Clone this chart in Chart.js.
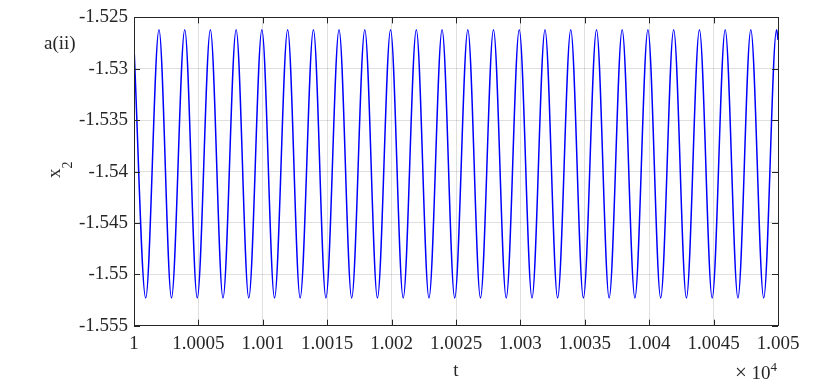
<!DOCTYPE html>
<html lang="en">
  <head>
    <meta charset="utf-8">
    <title>x2 against t</title>
    <script src="https://cdn.jsdelivr.net/npm/chart.js@4.4.1/dist/chart.umd.min.js"></script>
    <style>
      body { margin: 0; background: #fff; }
      #wrap { width: 830px; height: 387px; }
    </style>
  </head>
  <body>
    <div id="wrap"><canvas id="chart" width="830" height="387"></canvas></div>
    <script>
      // turning points of the x2 trace (start, troughs/peaks, end)
      const tValues = [
        10000.00,
        10000.91, 10001.94, 10002.91, 10003.94, 10004.91, 10005.93, 10006.91, 10007.93,
        10008.91, 10009.93, 10010.91, 10011.93, 10012.90, 10013.93, 10014.90, 10015.92,
        10016.90, 10017.92, 10018.90, 10019.92, 10020.90, 10021.92, 10022.90, 10023.92,
        10024.90, 10025.92, 10026.90, 10027.91, 10028.90, 10029.91, 10030.90, 10031.91,
        10032.89, 10033.91, 10034.89, 10035.91, 10036.89, 10037.90, 10038.89, 10039.90,
        10040.89, 10041.90, 10042.89, 10043.90, 10044.89, 10045.90, 10046.89, 10047.89,
        10048.89, 10049.89,
        10050.00
      ];
      const x2Values = [
        -1.5279,
        -1.5523, -1.5262, -1.5523, -1.5262, -1.5523, -1.5262, -1.5523, -1.5262,
        -1.5523, -1.5262, -1.5523, -1.5262, -1.5523, -1.5262, -1.5523, -1.5262,
        -1.5523, -1.5262, -1.5523, -1.5262, -1.5523, -1.5262, -1.5523, -1.5262,
        -1.5523, -1.5262, -1.5523, -1.5262, -1.5523, -1.5262, -1.5523, -1.5262,
        -1.5523, -1.5262, -1.5523, -1.5262, -1.5523, -1.5262, -1.5523, -1.5262,
        -1.5523, -1.5262, -1.5523, -1.5262, -1.5523, -1.5262, -1.5523, -1.5262,
        -1.5523, -1.5262,
        -1.5272
      ];
      const xTicks = [10000, 10005, 10010, 10015, 10020, 10025, 10030, 10035, 10040, 10045, 10050];
      const yTicks = [-1.555, -1.55, -1.545, -1.54, -1.535, -1.53, -1.525];

      const FONT = '"Liberation Serif", "Times New Roman", serif';
      const AXIS = '#262626';
      const GRID = 'rgba(38,38,38,0.15)';

      const points = tValues.map((t, i) => ({ x: t, y: x2Values[i] }));

      // box round the plot, inward ticks, and the MATLAB-style labels
      const matlabBits = {
        id: 'matlabBits',
        afterDraw(chart) {
          const ctx = chart.ctx;
          const a = chart.chartArea;
          const sx = chart.scales.x, sy = chart.scales.y;
          ctx.save();
          ctx.strokeStyle = AXIS;
          ctx.lineWidth = 1;
          ctx.strokeRect(Math.round(a.left) + 0.5, Math.round(a.top) + 0.5,
                         Math.round(a.right - a.left), Math.round(a.bottom - a.top));
          ctx.beginPath();
          xTicks.forEach(v => {
            const px = Math.round(sx.getPixelForValue(v)) + 0.5;
            ctx.moveTo(px, a.bottom); ctx.lineTo(px, a.bottom - 6);
            ctx.moveTo(px, a.top); ctx.lineTo(px, a.top + 6);
          });
          yTicks.forEach(v => {
            const py = Math.round(sy.getPixelForValue(v)) + 0.5;
            ctx.moveTo(a.left, py); ctx.lineTo(a.left + 6, py);
            ctx.moveTo(a.right, py); ctx.lineTo(a.right - 6, py);
          });
          ctx.stroke();

          ctx.fillStyle = AXIS;
          ctx.textBaseline = 'alphabetic';
          ctx.textAlign = 'left';
          ctx.font = '19px ' + FONT;
          ctx.fillText('a(ii)', 44, 49);
          ctx.textAlign = 'center';
          ctx.fillText('t', (a.left + a.right) / 2, 375.5);

          // x10^4 exponent under the right end of the t axis
          ctx.textAlign = 'left';
          ctx.font = '21px ' + FONT;
          ctx.fillText('\u00d7', 735, 379);
          ctx.font = '19px ' + FONT;
          ctx.fillText('10', 751.5, 379);
          ctx.font = '13px ' + FONT;
          ctx.fillText('4', 770.5, 371);

          // y label x_2
          ctx.translate(60, 178);
          ctx.rotate(-Math.PI / 2);
          ctx.font = '19px ' + FONT;
          ctx.fillText('x', 0, 0);
          ctx.font = '14px ' + FONT;
          ctx.fillText('2', 9.5, 11.5);
          ctx.restore();
        }
      };

      const ctx = document.getElementById('chart').getContext('2d');
      const myChart = new Chart(ctx, {
        type: 'line',
        data: {
          datasets: [{
            label: 'x2',
            data: points,
            borderColor: '#0000ff',
            backgroundColor: '#0000ff',
            borderWidth: 1.5,
            pointRadius: 0,
            fill: false,
            cubicInterpolationMode: 'monotone'
          }]
        },
        options: {
          responsive: false,
          animation: false,
          events: [],
          layout: { padding: { top: 11.5, right: 52, bottom: 0, left: 0 } },
          plugins: { legend: { display: false }, tooltip: { enabled: false } },
          scales: {
            x: {
              type: 'linear',
              min: 10000,
              max: 10050,
              afterBuildTicks: s => { s.ticks = xTicks.map(v => ({ value: v })); },
              afterFit: s => { s.height = 61.3; },
              grid: { color: GRID, drawTicks: false },
              border: { display: false },
              ticks: {
                color: AXIS,
                font: { family: FONT, size: 19 },
                padding: 7,
                maxRotation: 0,
                autoSkip: false,
                callback: v => parseFloat((v / 10000).toFixed(4)).toString()
              }
            },
            y: {
              min: -1.555,
              max: -1.525,
              afterBuildTicks: s => { s.ticks = yTicks.map(v => ({ value: v })); },
              afterFit: s => { s.width = 134; },
              grid: { color: GRID, drawTicks: false },
              border: { display: false },
              ticks: {
                color: AXIS,
                font: { family: FONT, size: 19 },
                padding: 6,
                autoSkip: false,
                callback: v => parseFloat(v.toFixed(3)).toString()
              }
            }
          }
        },
        plugins: [matlabBits]
      });
    </script>
  </body>
</html>
